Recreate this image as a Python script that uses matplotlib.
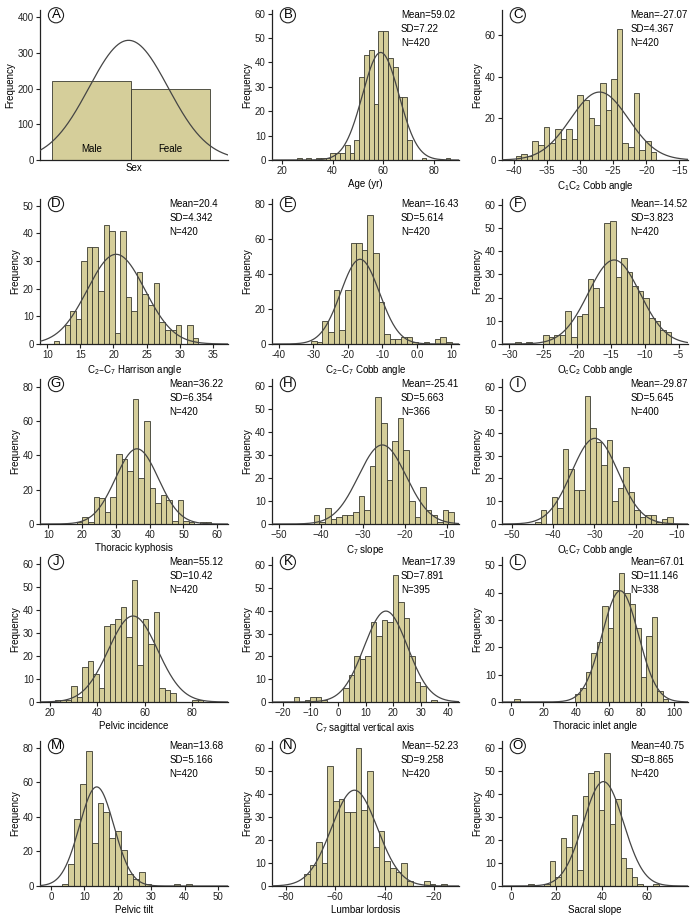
import numpy as np
import matplotlib
matplotlib.use('Agg')
import matplotlib.pyplot as plt

plt.rcParams['font.family'] = ['Liberation Sans Narrow', 'Liberation Sans', 'DejaVu Sans']
plt.rcParams['mathtext.default'] = 'regular'

# ---------------- data ----------------
sex_categories = ['Male', 'Feale']
sex_counts = [222, 198]

age_counts = [1, 0, 1, 0, 1, 1, 1, 3, 3, 3, 6, 3, 8, 34, 43, 45, 23, 53, 53, 42, 38, 26, 26, 8, 0, 0, 1, 0, 0, 0, 0, 1]
age_bin = (25.8, 1.9)
age_stats = (59.02, 7.22, 420)

c1c2_counts = [2, 3, 2, 9, 7, 16, 8, 15, 10, 15, 10, 31, 29, 20, 17, 37, 24, 39, 63, 8, 6, 32, 5, 9, 4]
c1c2_bin = (-39.75, 0.85)
c1c2_stats = (-27.07, 4.367, 420)

harrison_counts = [1, 0, 7, 12, 9, 30, 35, 35, 19, 43, 41, 4, 41, 17, 12, 26, 18, 14, 22, 8, 5, 5, 7, 0, 7, 2]
harrison_bin = (10.94, 0.84)
harrison_stats = (20.4, 4.342, 420)

c2c7_counts = [2, 1, 13, 7, 31, 8, 31, 58, 58, 54, 74, 52, 24, 6, 3, 3, 4, 4, 1, 0, 1, 0, 3, 4, 1]
c2c7_bin = (-30.56, 1.625)
c2c7_stats = (-16.43, 5.614, 420)

occ2_counts = [1, 0, 1, 0, 0, 4, 3, 4, 4, 14, 3, 12, 13, 28, 24, 16, 52, 53, 29, 37, 31, 25, 23, 20, 11, 10, 6, 5]
occ2_bin = (-29.16, 0.825)
occ2_stats = (-14.52, 3.823, 420)

tk_counts = [1, 4, 1, 16, 15, 7, 16, 41, 38, 31, 73, 27, 60, 21, 12, 17, 14, 2, 14, 2, 1, 0, 1, 1]
tk_bin = (18.4, 1.66)
tk_stats = (36.22, 6.354, 420)

c7slope_counts = [4, 1, 7, 2, 3, 4, 4, 5, 12, 6, 25, 55, 44, 19, 36, 46, 32, 10, 3, 16, 6, 4, 1, 6, 5]
c7slope_bin = (-41.7, 1.33)
c7slope_stats = (-25.41, 5.663, 366)

occ7_counts = [1, 6, 0, 12, 7, 33, 24, 15, 15, 56, 42, 36, 26, 37, 10, 16, 25, 14, 6, 3, 4, 4, 1, 2, 3]
occ7_bin = (-44.3, 1.33)
occ7_stats = (-29.87, 5.645, 400)

pi_counts = [1, 1, 1, 7, 2, 15, 18, 12, 6, 33, 34, 36, 41, 28, 53, 16, 36, 25, 39, 6, 5, 4, 0, 0, 0, 1, 1]
pi_bin = (22.1, 2.32)
pi_stats = (55.12, 10.42, 420)

sva_counts = [2, 0, 1, 2, 2, 1, 0, 0, 0, 6, 12, 20, 19, 20, 35, 29, 36, 35, 56, 44, 37, 20, 9, 7, 0, 1]
sva_bin = (-16.1, 2.0)
sva_stats = (17.39, 7.891, 395)

tia_counts = [1, 0, 0, 0, 0, 0, 0, 0, 0, 0, 0, 3, 5, 11, 18, 22, 35, 27, 41, 47, 40, 36, 27, 9, 24, 31, 4, 1]
tia_bin = (2.2, 3.36)
tia_stats = (67.01, 11.146, 338)

pt_counts = [1, 13, 39, 59, 78, 25, 48, 43, 28, 32, 21, 7, 4, 8, 1, 0, 0, 0, 0, 1, 0, 1]
pt_bin = (3.3, 1.77)
pt_stats = (13.68, 5.166, 420)

ll_counts = [5, 9, 19, 10, 52, 37, 38, 32, 32, 60, 33, 50, 17, 24, 11, 8, 6, 10, 2, 0, 0, 2, 1, 0, 1]
ll_bin = (-72.4, 2.3)
ll_stats = (-52.23, 9.258, 420)

ss_counts = [1, 0, 0, 1, 11, 4, 21, 17, 31, 7, 39, 49, 50, 33, 58, 27, 38, 12, 8, 4, 1, 0, 0, 1]
ss_bin = (7.6, 2.4)
ss_stats = (40.75, 8.865, 420)

xlabels = ['Sex', 'Age (yr)', 'C$_1$C$_2$ Cobb angle',
           'C$_2$\u2013C$_7$ Harrison angle', 'C$_2$\u2013C$_7$ Cobb angle', 'O$_c$C$_2$ Cobb angle',
           'Thoracic kyphosis', 'C$_7$ slope', 'O$_c$C$_7$ Cobb angle',
           'Pelvic incidence', 'C$_7$ sagittal vertical axis', 'Thoracic inlet angle',
           'Pelvic tilt', 'Lumbar lordosis', 'Sacral slope']
letters = list('ABCDEFGHIJKLMNO')

# ---------------- style / layout ----------------
BAR = '#d5ce9a'
EDGE = '#3a3a30'
CURVE = '#454545'
FS = 7
W, H = 695, 921
col_l = [40, 272, 502]
col_r = [228, 459, 688]
row_t = [10, 199, 379, 557, 741]
row_b = [160, 344, 524, 702, 886]

fig = plt.figure(figsize=(W / 100, H / 100), dpi=100)
fig.patch.set_facecolor('white')


def make_ax(i):
    r, c = divmod(i, 3)
    l, rr, t, b = col_l[c], col_r[c], row_t[r], row_b[r]
    ax = fig.add_axes([l / W, 1 - b / H, (rr - l) / W, (b - t) / H])
    for s in ['top', 'right']:
        ax.spines[s].set_visible(False)
    for s in ['left', 'bottom']:
        ax.spines[s].set_linewidth(0.9)
        ax.spines[s].set_color('#222222')
    ax.tick_params(direction='out', length=3, width=0.8, labelsize=FS, pad=1.5, colors='#222222')
    ax.set_ylabel('Frequency', fontsize=FS, labelpad=2)
    ax.set_xlabel(xlabels[i], fontsize=FS, labelpad=2)
    ax.text(0.085, 0.965, letters[i], transform=ax.transAxes, ha='center', va='center',
            fontsize=9.5, bbox=dict(boxstyle='circle,pad=0.12', fc='white', ec='#222222', lw=0.8))
    return ax


def normal_curve(ax, stats, width, xlim):
    m, sd, n = stats
    x = np.linspace(xlim[0], xlim[1], 400)
    y = n * width / (sd * np.sqrt(2 * np.pi)) * np.exp(-0.5 * ((x - m) / sd) ** 2)
    ax.plot(x, y, color=CURVE, lw=0.9, zorder=3)


def hist_panel(i, counts, binspec, stats, xlim, xticks, ylim, yticks, xticklabels=None):
    ax = make_ax(i)
    start, w = binspec
    edges = start + w * np.arange(len(counts))
    ax.bar(edges, counts, width=w, align='edge', color=BAR, edgecolor=EDGE, linewidth=0.6, zorder=2)
    normal_curve(ax, stats, w, xlim)
    ax.set_xlim(*xlim)
    ax.set_ylim(*ylim)
    ax.set_xticks(xticks)
    if xticklabels is not None:
        ax.set_xticklabels(xticklabels)
    ax.set_yticks(yticks)
    m, sd, n = stats
    ax.text(0.69, 1.0, f'Mean={m:g}\nSD={sd:g}\nN={n}', transform=ax.transAxes,
            ha='left', va='top', fontsize=FS, linespacing=1.5)
    return ax


# Panel A
axA = make_ax(0)
xpos = np.arange(1, len(sex_counts) + 1)
axA.bar(xpos, sex_counts, width=1.0, color=BAR, edgecolor=EDGE, linewidth=0.6, zorder=2)
sex_mean = float(np.sum(xpos * np.array(sex_counts)) / np.sum(sex_counts))
sex_sd = 0.5
normal_curve(axA, (sex_mean, sex_sd, int(np.sum(sex_counts))), 1.0, (0.35, 2.73))
axA.set_xlim(0.35, 2.73)
axA.set_ylim(0, 420)
axA.set_yticks([0, 100, 200, 300, 400])
axA.set_xticks([])
for xp, lab in zip(xpos, sex_categories):
    axA.text(xp, 18, lab, ha='center', va='bottom', fontsize=FS, zorder=4)

hist_panel(1, age_counts, age_bin, age_stats, (16, 90), [20, 40, 60, 80], (0, 61.5), range(0, 61, 10))
hist_panel(2, c1c2_counts, c1c2_bin, c1c2_stats, (-41.8, -13.7), [-40, -35, -30, -25, -20, -15], (0, 72), [0, 20, 40, 60])
hist_panel(3, harrison_counts, harrison_bin, harrison_stats, (8.9, 37.3), [10, 15, 20, 25, 30, 35], (0, 52.4), range(0, 51, 10))
hist_panel(4, c2c7_counts, c2c7_bin, c2c7_stats, (-41.9, 12.2), [-40, -30, -20, -10, 0, 10], (0, 83), [0, 20, 40, 60, 80],
           xticklabels=['-40', '-30', '-20', '-10', '0.0', '10'])
hist_panel(5, occ2_counts, occ2_bin, occ2_stats, (-31.1, -3.6), [-30, -25, -20, -15, -10, -5], (0, 62.4), range(0, 61, 10))
hist_panel(6, tk_counts, tk_bin, tk_stats, (7.5, 63.2), [10, 20, 30, 40, 50, 60], (0, 84.4), [0, 20, 40, 60, 80])
hist_panel(7, c7slope_counts, c7slope_bin, c7slope_stats, (-51.6, -7.2), [-50, -40, -30, -20, -10], (0, 62.9), range(0, 61, 10))
hist_panel(8, occ7_counts, occ7_bin, occ7_stats, (-52.4, -7.3), [-50, -40, -30, -20, -10], (0, 63.6), range(0, 61, 10))
hist_panel(9, pi_counts, pi_bin, pi_stats, (15.8, 95.3), [20, 40, 60, 80], (0, 62.9), range(0, 61, 10))
hist_panel(10, sva_counts, sva_bin, sva_stats, (-23.9, 43.9), [-20, -10, 0, 10, 20, 30, 40], (0, 63.7), range(0, 61, 10))
hist_panel(11, tia_counts, tia_bin, tia_stats, (-5.4, 108.5), [0, 20, 40, 60, 80, 100], (0, 53), range(0, 51, 10))
hist_panel(12, pt_counts, pt_bin, pt_stats, (-3.3, 53), [0, 10, 20, 30, 40, 50], (0, 84), [0, 20, 40, 60, 80])
hist_panel(13, ll_counts, ll_bin, ll_stats, (-85.5, -10), [-80, -60, -40, -20], (0, 63), range(0, 61, 10))
hist_panel(14, ss_counts, ss_bin, ss_stats, (-3.9, 78), [0, 20, 40, 60], (0, 63), range(0, 61, 10))

fig.savefig('out.png', dpi=100, facecolor='white')
